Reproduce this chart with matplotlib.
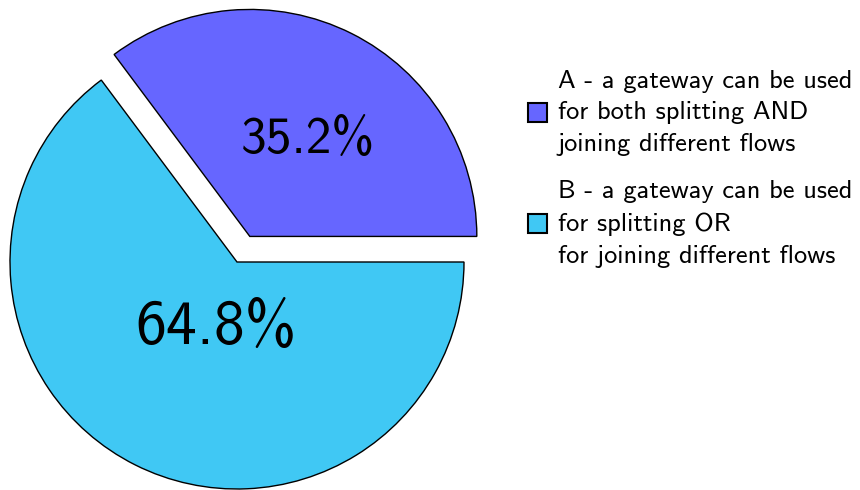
import numpy as np
import matplotlib
matplotlib.use('Agg')
import matplotlib.pyplot as plt
from matplotlib.patches import Rectangle

plt.rcParams['font.family'] = ['cmss10', 'DejaVu Sans']

labels = ['A - a gateway can be used\nfor both splitting AND\njoining different flows',
          'B - a gateway can be used\nfor splitting OR\nfor joining different flows']
shares = [35.2, 64.8]
colors = ['#6666ff', '#40c8f4']
explode = [0.126, 0.0]
pct_dist = [0.496, 0.307]
pct_turn = [-4.5, 9.0]
pct_size = [37, 44.5]

fig = plt.figure(figsize=(8.6, 4.9), dpi=100)
ax = fig.add_axes([0, 0, 1, 1])

wedges, _ = ax.pie(shares, colors=colors, explode=explode, startangle=0,
                   counterclock=True, radius=1.0,
                   wedgeprops=dict(edgecolor='black', linewidth=1.0))

# 227 px per data unit, pie centre at pixel (237, 262 from top)
s = 227.0
ax.set_xlim(-237 / s, (860 - 237) / s)
ax.set_ylim(-(490 - 262) / s, 262 / s)
ax.set_axis_off()

for w, v, d, t, fs in zip(wedges, shares, pct_dist, pct_turn, pct_size):
    ang = np.deg2rad((w.theta1 + w.theta2) / 2 + t)
    cx, cy = w.center
    ax.text(cx + d * np.cos(ang), cy + d * np.sin(ang), f'{v:.1f}%',
            ha='center', va='center', fontsize=fs)

# legend drawn by hand
sq_y = [112.5, 223.5]
for y, c, lab in zip(sq_y, colors, labels):
    ax.add_patch(Rectangle((528 / 860, 1 - (y + 9.5) / 490), 19 / 860, 19 / 490,
                           transform=fig.transFigure, facecolor=c,
                           edgecolor='black', linewidth=1.5, clip_on=False))
    fig.text(558 / 860, 1 - (y + 0.5) / 490, lab, ha='left', va='center',
             fontsize=19, linespacing=1.48)

fig.savefig('out.png', dpi=100)
